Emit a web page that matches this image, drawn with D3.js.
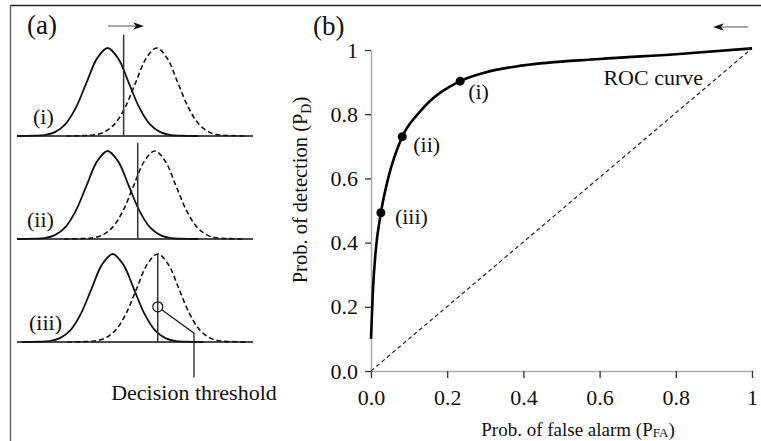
<!DOCTYPE html>
<html>
<head>
<meta charset="utf-8">
<script src="https://cdn.jsdelivr.net/npm/d3@7"></script>
<style>
  body { margin: 0; background: #fff; }
  svg text { font-family: "Liberation Serif", "Times New Roman", Tinos, "DejaVu Serif", serif; }
</style>
</head>
<body>
<div id="chart"></div>
<script>
// ROC curve
const rocPfa = [0, 0.005, 0.012, 0.026, 0.045, 0.082, 0.13, 0.234, 0.3, 0.4, 0.6, 0.8, 1];
const rocPd  = [0.1, 0.25, 0.37, 0.493, 0.6, 0.73, 0.81, 0.903, 0.93, 0.952, 0.972, 0.987, 1.005];

// operating points (i), (ii), (iii)
const opLabels = ["(i)", "(ii)", "(iii)"];
const opPfa = [0.234, 0.082, 0.026];
const opPd  = [0.903, 0.73, 0.493];

const axisTicks = [0, 0.2, 0.4, 0.6, 0.8, 1];
const tickLabels = ["0.0", "0.2", "0.4", "0.6", "0.8", "1"];

// panel (a): bell shape (offset in widths, relative height)
const bellOffset = [-4.3, -3.5, -3, -2.5, -2, -1.5, -1, -0.5, 0, 0.5, 1, 1.5, 2, 2.5, 3, 3.5, 4.3];
const bellHeight = [0, 0.004, 0.011, 0.044, 0.135, 0.325, 0.607, 0.882, 1, 0.882, 0.607, 0.325, 0.135, 0.044, 0.011, 0.004, 0];

const rowLabels = ["(i)", "(ii)", "(iii)"];
const noiseMean  = [0, 0, 0.24];
const signalMean = [2.33, 2.24, 2.38];
const threshold  = [0.76, 1.43, 2.38];
const thresholdTop = [1.15, 1.09, 1.0];

const FONT = '"Liberation Serif", "Times New Roman", Tinos, "DejaVu Serif", serif';
const W = 761, H = 441;
const svg = d3.select("#chart").append("svg")
  .attr("width", W).attr("height", H)
  .attr("font-family", FONT);

svg.append("rect").attr("width", W).attr("height", H).attr("fill", "#fff");

// frame
svg.append("line").attr("x1", 10).attr("x2", W).attr("y1", 5.5).attr("y2", 5.5)
  .attr("stroke", "#222").attr("stroke-width", 1.5);
svg.append("line").attr("x1", 10.5).attr("x2", 10.5).attr("y1", 5).attr("y2", H)
  .attr("stroke", "#666").attr("stroke-width", 1.5);

// ---------- panel (a) ----------
const xA = d3.scaleLinear().domain([-4.3, 6.9]).range([17, 253]);
const rowBase = [136, 239, 342];
const peakPx = 88;

const bell = (mean, yS) => d3.line()
  .x((d, i) => xA(mean + bellOffset[i]))
  .y((d, i) => yS(bellHeight[i]))
  .curve(d3.curveCatmullRom)(bellOffset);

rowLabels.forEach((lab, r) => {
  const yA = d3.scaleLinear().domain([0, 1]).range([rowBase[r], rowBase[r] - peakPx]);
  const g = svg.append("g");

  g.append("path").attr("d", bell(signalMean[r], yA))
    .attr("fill", "none").attr("stroke", "#111").attr("stroke-width", 1.6)
    .attr("stroke-dasharray", "5,3");
  g.append("path").attr("d", bell(noiseMean[r], yA))
    .attr("fill", "none").attr("stroke", "#111").attr("stroke-width", 1.8);

  g.append("line")
    .attr("x1", xA.range()[0]).attr("x2", xA.range()[1])
    .attr("y1", yA(0)).attr("y2", yA(0))
    .attr("stroke", "#111").attr("stroke-width", 1.5);

  g.append("line")
    .attr("x1", xA(threshold[r])).attr("x2", xA(threshold[r]))
    .attr("y1", yA(0)).attr("y2", yA(thresholdTop[r]))
    .attr("stroke", "#333").attr("stroke-width", 1.5);

  g.append("text").attr("x", [33, 27, 29][r]).attr("y", rowBase[r] - 12.5)
    .attr("font-size", 22).attr("fill", "#111").text(lab);

  if (r === 2) {
    const cx = xA(threshold[r]), cy = yA(0.4);
    g.append("circle").attr("cx", cx).attr("cy", cy).attr("r", 5)
      .attr("fill", "none").attr("stroke", "#111").attr("stroke-width", 1.2);
    g.append("polyline")
      .attr("points", [[cx + 4, cy + 3], [xA(4.1), yA(0.1)], [xA(4.1), yA(-0.4)]].join(" "))
      .attr("fill", "none").attr("stroke", "#222").attr("stroke-width", 1.3);
    g.append("text").attr("x", xA(4.1)).attr("y", 400)
      .attr("text-anchor", "middle").attr("font-size", 22).attr("fill", "#111")
      .text("Decision threshold");
  }
});

svg.append("text").attr("x", 27).attr("y", 34).attr("font-size", 27).attr("fill", "#111").text("(a)");

function arrow(x1, x2, y) {
  const dir = Math.sign(x2 - x1);
  svg.append("line").attr("x1", x1).attr("x2", x2 - dir * 8).attr("y1", y).attr("y2", y)
    .attr("stroke", "#777").attr("stroke-width", 1.3);
  svg.append("path")
    .attr("d", `M${x2},${y} L${x2 - dir * 11},${y - 3.8} L${x2 - dir * 8},${y} L${x2 - dir * 11},${y + 3.8} Z`)
    .attr("fill", "#111");
}
arrow(108, 144, 26);

// ---------- panel (b) ----------
const x = d3.scaleLinear().domain([0, 1]).range([371, 752]);
const y = d3.scaleLinear().domain([0, 1]).range([371, 50]);
const fmt = d => tickLabels[axisTicks.indexOf(d)];

const gx = svg.append("g").attr("transform", `translate(0,${y(0)})`)
  .call(d3.axisBottom(x).tickValues(axisTicks).tickFormat(fmt).tickSize(7).tickSizeOuter(0).tickPadding(11));
const gy = svg.append("g").attr("transform", `translate(${x(0)},0)`)
  .call(d3.axisLeft(y).tickValues(axisTicks).tickFormat(fmt).tickSize(6).tickSizeOuter(0).tickPadding(7));
[gx, gy].forEach(g => {
  g.attr("font-family", FONT).attr("font-size", 22);
  g.select(".domain").attr("stroke", "#aaa").attr("stroke-width", 1.5);
  g.selectAll(".tick line").attr("stroke", "#333").attr("stroke-width", 1.3);
  g.selectAll(".tick text").attr("fill", "#111");
});

// chance diagonal
svg.append("line")
  .attr("x1", x(0)).attr("y1", y(0)).attr("x2", x(1)).attr("y2", y(rocPd[rocPd.length - 1]))
  .attr("stroke", "#222").attr("stroke-width", 1.2).attr("stroke-dasharray", "4,3");

svg.append("path")
  .attr("d", d3.line().x((d, i) => x(rocPfa[i])).y(d => y(d)).curve(d3.curveMonotoneX)(rocPd))
  .attr("fill", "none").attr("stroke", "#000").attr("stroke-width", 2.6);

const labelOffset = [[8, 18], [11, 15], [14, 11]];
svg.selectAll(".op").data(opLabels).enter().append("circle")
  .attr("cx", (d, i) => x(opPfa[i])).attr("cy", (d, i) => y(opPd[i]))
  .attr("r", 4.5).attr("fill", "#000");
svg.selectAll(".opl").data(opLabels).enter().append("text")
  .attr("x", (d, i) => x(opPfa[i]) + labelOffset[i][0])
  .attr("y", (d, i) => y(opPd[i]) + labelOffset[i][1])
  .attr("font-size", 22).attr("fill", "#111").text(d => d);

svg.append("text").attr("x", x(0.61)).attr("y", y(0.89))
  .attr("font-size", 22).attr("fill", "#111").text("ROC curve");

svg.append("text").attr("x", 313).attr("y", 35).attr("font-size", 27).attr("fill", "#111").text("(b)");
arrow(748, 713, 27);

// axis titles
const xt = svg.append("text").attr("x", 578).attr("y", 436)
  .attr("text-anchor", "middle").attr("font-size", 19).attr("fill", "#111");
xt.append("tspan").text("Prob. of false alarm (P");
xt.append("tspan").attr("font-size", 13).attr("dy", 1).text("FA");
xt.append("tspan").attr("dy", -1).text(")");

const yt = svg.append("text")
  .attr("transform", `translate(307,190) rotate(-90)`)
  .attr("text-anchor", "middle").attr("font-size", 20.5).attr("fill", "#111");
yt.append("tspan").text("Prob. of detection (P");
yt.append("tspan").attr("font-size", 14).attr("dy", 4).text("D");
yt.append("tspan").attr("dy", -4).text(")");
</script>
</body>
</html>
